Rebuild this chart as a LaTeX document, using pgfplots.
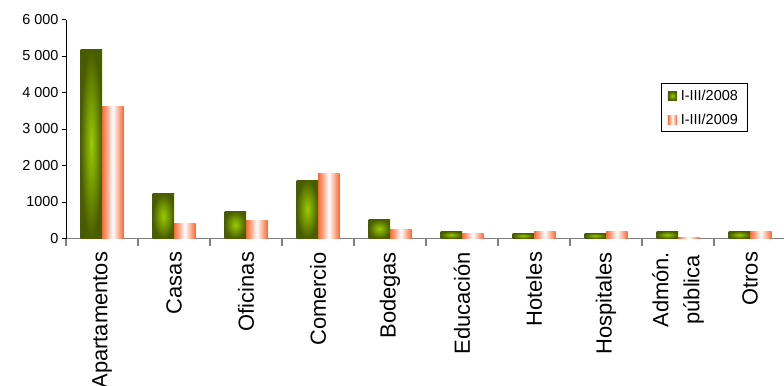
\documentclass[border=0pt]{standalone}
\usepackage{pgfplots}
\pgfplotsset{compat=1.18}
\usepackage{fontspec}
\setmainfont{Liberation Sans}
\definecolor{gdark}{HTML}{4A5C00}
\definecolor{glight}{HTML}{99CC00}
\definecolor{orng}{HTML}{FF6633}
\pgfplotsset{
  gstyle/.style={draw=none, inner color=glight, outer color=gdark, bar shift=-10.75bp},
  pstyle/.style={draw=none, left color=orng, right color=orng, middle color=white, bar shift=10.75bp},
}
\newcommand\gbar[2]{\addplot[gstyle, forget plot] coordinates {(#1,#2)};}
\newcommand\pbar[2]{\addplot[pstyle, forget plot] coordinates {(#1,#2)};}
\begin{document}
\begin{tikzpicture}[x=1bp,y=1bp]
\useasboundingbox (0,0) rectangle (784,385);
\begin{axis}[
  at={(66bp,146.5bp)}, anchor=south west,
  scale only axis, width=720bp, height=219bp,
  xmin=-0.5, xmax=9.5, ymin=0, ymax=6000,
  ybar=0pt, bar width=21.5bp,
  legend image code/.code={\path[#1,draw=none] (0bp,-4.5bp) rectangle (9bp,4.5bp); \path (11bp,0bp);},
  axis x line*=bottom, axis y line*=left,
  x axis line style={draw=gray, line width=1.6bp},
  y axis line style={draw=black, line width=0.8bp},
  tick align=outside,
  xtick={0,...,9},
  xticklabels={Apartamentos,Casas,Oficinas,Comercio,Bodegas,Educación,Hoteles,Hospitales,{Admón.\\pública},Otros},
  major x tick style={draw=none},
  minor xtick={-0.5,0.5,...,9.5},
  minor x tick style={draw=gray, line width=1.6bp},
  minor tick length=7bp,
  ytick={0,1000,...,6000},
  yticklabels={0,1000,2 000,3 000,4 000,5 000,6 000},
  major tick length=4bp,
  y tick style={draw=black, line width=0.8bp},
  xticklabel shift=6bp,
  xticklabel style={rotate=90, anchor=east, align=center, font=\fontsize{22}{31}\selectfont},
  yticklabel style={font=\fontsize{14.5}{17}\selectfont},
  legend style={at={(axis description cs:0.946,0.708)}, anchor=north east,
    draw=black, line width=0.6bp, font=\fontsize{14.5}{17}\selectfont,
    row sep=8bp, inner xsep=7bp, inner ysep=4bp},
  legend cell align=left,
]
% legend carriers (first category)
\addplot[gstyle] coordinates {(0,5165)};
\addplot[pstyle] coordinates {(0,3630)};
% I-III/2008
\gbar{1}{1220}
\gbar{2}{750}
\gbar{3}{1600}
\gbar{4}{530}
\gbar{5}{200}
\gbar{6}{150}
\gbar{7}{150}
\gbar{8}{200}
\gbar{9}{200}
% I-III/2009
\pbar{1}{420}
\pbar{2}{480}
\pbar{3}{1770}
\pbar{4}{260}
\pbar{5}{150}
\pbar{6}{200}
\pbar{7}{200}
\pbar{8}{40}
\pbar{9}{200}
\legend{I-III/2008,I-III/2009}
\end{axis}
\end{tikzpicture}
\end{document}
